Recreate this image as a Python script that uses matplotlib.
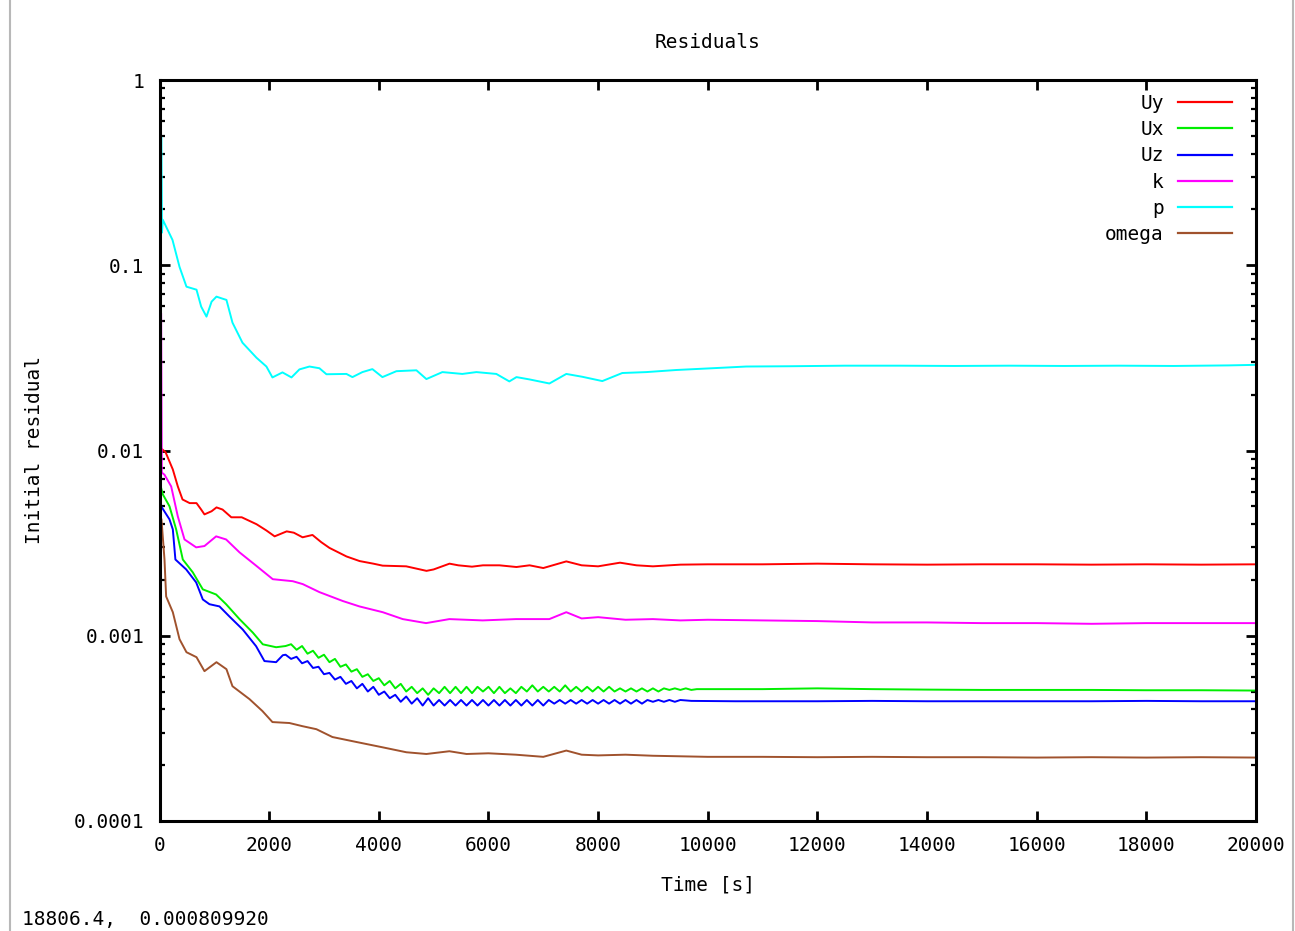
import matplotlib
matplotlib.use("Agg")
import matplotlib.pyplot as plt
from matplotlib.lines import Line2D
from matplotlib.ticker import LogLocator, FixedLocator, NullFormatter

# ---------------- data ----------------
t_uy = [0, 40, 110, 243, 334, 420, 550, 675, 760, 820, 950, 1040, 1150, 1310, 1500, 1770, 1950, 2100,
        2320, 2450, 2610, 2790, 2950, 3100, 3410, 3650, 3900, 4070, 4500, 4870, 5000, 5290, 5450, 5700,
        5900, 6200, 6510, 6750, 7000, 7420, 7700, 8000, 8400, 8700, 9000, 9500, 10000, 11000, 12000,
        13000, 14000, 15000, 16000, 17000, 18000, 19000, 20000]
uy = [0.0085, 0.0102, 0.0098, 0.0079, 0.0064, 0.00544, 0.0052, 0.0052, 0.0048, 0.00452,
      0.0047, 0.00493, 0.0048, 0.00436, 0.00436, 0.0040, 0.0037, 0.00344, 0.00366, 0.0036,
      0.0034, 0.0035, 0.0032, 0.00298, 0.00268, 0.00253, 0.00245, 0.00239, 0.00237, 0.00224,
      0.00228, 0.00245, 0.0024, 0.00236, 0.0024, 0.0024, 0.00235, 0.0024, 0.00232, 0.00252,
      0.0024, 0.00237, 0.00248, 0.0024, 0.00237, 0.00242, 0.00243, 0.00243, 0.00245, 0.00243,
      0.00242, 0.00243, 0.00243, 0.00242, 0.00243, 0.00242, 0.00243]

t_ux = ([0, 60, 182, 304, 425, 607, 790, 1033, 1215, 1459, 1702, 1884, 2127, 2300]
        + list(range(2400, 9800, 100))
        + [9800, 10500, 11000, 12000, 13000, 14000, 15000, 16000, 17000, 18000, 19000, 20000])
ux = ([0.0068, 0.0058, 0.0050, 0.00375, 0.00258, 0.0022, 0.00178, 0.00167, 0.00148, 0.00123,
       0.00104, 0.000899, 0.000867, 0.00088]
      + [0.00090, 0.00084, 0.00088, 0.00080, 0.00083, 0.00076, 0.00079, 0.00072, 0.00075, 0.00068,
         0.00070, 0.00064, 0.00066, 0.00060, 0.00062, 0.00057, 0.00059, 0.00054, 0.00057, 0.00052,
         0.00055, 0.00050, 0.00053, 0.00049, 0.00052, 0.00048, 0.00052, 0.00049, 0.00053, 0.00049,
         0.00053, 0.00049, 0.00053, 0.00049, 0.00053, 0.00050, 0.00053, 0.00049, 0.00053, 0.00049,
         0.00052, 0.00049, 0.00053, 0.00050, 0.00054, 0.00050, 0.00053, 0.00050, 0.00053, 0.00050,
         0.00054, 0.00050, 0.00053, 0.00050, 0.00053, 0.00050, 0.00053, 0.00050, 0.00053, 0.00050,
         0.00052, 0.00050, 0.00052, 0.00050, 0.00052, 0.00050, 0.00052, 0.00050, 0.00052, 0.00051,
         0.00052, 0.00051, 0.00052, 0.00051]
      + [0.000515, 0.000515, 0.000515, 0.00052, 0.000515, 0.000512, 0.00051, 0.00051, 0.00051,
         0.000508, 0.000508, 0.000506])

t_uz = ([0, 30, 182, 243, 290, 487, 669, 790, 911, 1094, 1276, 1519, 1762, 1914, 2127, 2249]
        + list(range(2300, 9600, 100))
        + [9700, 10500, 11000, 12000, 13000, 14000, 15000, 16000, 17000, 18000, 19000, 20000])
uz = ([0.0076, 0.0050, 0.00425, 0.00375, 0.00258, 0.00228, 0.00194, 0.00157, 0.00148, 0.00144,
       0.00127, 0.00108, 0.000878, 0.00073, 0.00072, 0.000785]
      + [0.00079, 0.00075, 0.00077, 0.00071, 0.00073, 0.00067, 0.00068, 0.00062, 0.00063, 0.00058,
         0.00060, 0.00055, 0.00057, 0.00052, 0.00055, 0.00050, 0.00053, 0.00048, 0.00050, 0.00046,
         0.00048, 0.00044, 0.00047, 0.00043, 0.00046, 0.00042, 0.00046, 0.00042, 0.00045, 0.00042,
         0.00045, 0.00042, 0.00045, 0.00042, 0.00045, 0.00042, 0.00045, 0.00042, 0.00045, 0.00042,
         0.00045, 0.00042, 0.00045, 0.00042, 0.00045, 0.00042, 0.00045, 0.00042, 0.00045, 0.00043,
         0.00045, 0.00043, 0.00045, 0.00043, 0.00045, 0.00043, 0.00045, 0.00043, 0.00045, 0.00043,
         0.00045, 0.00043, 0.00045, 0.00043, 0.00045, 0.00043, 0.00045, 0.00044, 0.00045, 0.00044,
         0.00045, 0.00044, 0.00045]
      + [0.000445, 0.000443, 0.000443, 0.000443, 0.000445, 0.000443, 0.000443, 0.000443, 0.000443,
         0.000445, 0.000443, 0.000443])

t_k = [0, 30, 42, 91, 213, 334, 456, 669, 820, 1033, 1215, 1459, 1762, 2066, 2431, 2613, 2917, 3343,
       3646, 4072, 4437, 4862, 5287, 5895, 6503, 7110, 7420, 7700, 8000, 8500, 9000, 9500, 10000,
       11000, 12000, 13000, 14000, 15000, 16000, 17000, 18000, 19000, 20000]
k = [0.02, 0.055, 0.0076, 0.0074, 0.0064, 0.00441, 0.00331, 0.00300, 0.00305, 0.00344,
     0.00331, 0.00282, 0.00239, 0.00202, 0.00197, 0.0019, 0.00172, 0.00154, 0.00144, 0.00134,
     0.00123, 0.00117, 0.00123, 0.00121, 0.00123, 0.00123, 0.00134, 0.00124, 0.00126, 0.00122,
     0.00123, 0.00121, 0.00122, 0.00121, 0.0012, 0.00118, 0.00118, 0.00117, 0.00117, 0.00116,
     0.00117, 0.00117, 0.00117]

t_p = [0, 35, 45, 60, 237, 365, 492, 675, 760, 857, 950, 1039, 1150, 1221, 1331, 1513, 1768, 1950,
       2060, 2243, 2407, 2552, 2735, 2917, 3045, 3410, 3519, 3701, 3883, 4066, 4321, 4686, 4868,
       5160, 5524, 5780, 6144, 6381, 6511, 6746, 7112, 7420, 7712, 8077, 8441, 8879, 9426, 10082,
       10702, 11500, 12500, 13500, 14500, 15500, 16500, 17500, 18500, 19500, 20000]
p = [0.3, 0.49, 0.15, 0.176, 0.137, 0.098, 0.0766, 0.0738, 0.0598, 0.0528,
     0.0636, 0.0677, 0.066, 0.065, 0.049, 0.0382, 0.0317, 0.0284,
     0.0248, 0.0264, 0.0248, 0.0274, 0.0284, 0.0278, 0.0258, 0.0259, 0.0249, 0.0265, 0.0275,
     0.0249, 0.0268, 0.0271, 0.0243, 0.0265, 0.0259, 0.0265, 0.0259, 0.0236, 0.0249, 0.0242,
     0.0230, 0.0259, 0.0250, 0.0237, 0.0262, 0.0265, 0.0272, 0.0278, 0.0284, 0.0285, 0.0287,
     0.0287, 0.0286, 0.0287, 0.0286, 0.0287, 0.0286, 0.0288, 0.029]

t_om = [0, 36, 91, 121, 243, 365, 492, 675, 820, 1039, 1221, 1331, 1641, 1878, 2060, 2370, 2607,
        2862, 3154, 3592, 4066, 4503, 4868, 5287, 5600, 6000, 6500, 7000, 7420, 7700, 8000, 8500,
        9000, 10000, 11000, 12000, 13000, 14000, 15000, 16000, 17000, 18000, 19000, 20000]
om = [0.0045, 0.00425, 0.00258, 0.00163, 0.00134, 0.000958, 0.000815, 0.000766, 0.000644, 0.00072,
      0.00066, 0.000534, 0.000455, 0.000392, 0.000342, 0.000338, 0.000325, 0.000313, 0.000284,
      0.000267, 0.000250, 0.000235, 0.00023, 0.000238, 0.00023, 0.000232, 0.000228, 0.000222,
      0.00024, 0.000228, 0.000226, 0.000228, 0.000225, 0.000222, 0.000222, 0.000221, 0.000222,
      0.000221, 0.000221, 0.00022, 0.000221, 0.00022, 0.000221, 0.00022]

series_labels = ["Uy", "Ux", "Uz", "k", "p", "omega"]
series_colors = ["#ff0000", "#00ee00", "#0000ff", "#ff00ff", "#00ffff", "#a0522d"]
x_ticks = [0, 2000, 4000, 6000, 8000, 10000, 12000, 14000, 16000, 18000, 20000]
y_ticks = [0.0001, 0.001, 0.01, 0.1, 1]
y_tick_labels = ["0.0001", "0.001", "0.01", "0.1", "1"]

# ---------------- figure ----------------
FONT = "DejaVu Sans Mono"
plt.rcParams["font.family"] = FONT
FS = 14

W, H = 1295, 931
fig = plt.figure(figsize=(W / 100, H / 100), dpi=100)
L, R, T, B = 159.5, 1256, 80, 821
ax = fig.add_axes([L / W, 1 - B / H, (R - L) / W, (B - T) / H])

data = [(t_uy, uy), (t_ux, ux), (t_uz, uz), (t_k, k), (t_p, p), (t_om, om)]
for (tt, vv), lab, col in zip(data, series_labels, series_colors):
    ax.plot(tt, vv, color=col, lw=1.4, label=lab)

ax.set_yscale("log")
ax.set_xlim(0, 20000)
ax.set_ylim(1e-4, 1)
ax.xaxis.set_major_locator(FixedLocator(x_ticks))
ax.set_xticklabels([str(v) for v in x_ticks])
ax.yaxis.set_major_locator(FixedLocator(y_ticks))
ax.set_yticklabels(y_tick_labels)
ax.yaxis.set_minor_locator(LogLocator(base=10, subs=range(2, 10)))
ax.yaxis.set_minor_formatter(NullFormatter())

ax.tick_params(which="major", direction="in", length=7, width=2, top=True, right=True,
               labelsize=FS, color="black")
ax.tick_params(which="minor", direction="in", length=3.5, width=1.6, top=True, right=True)
ax.tick_params(axis="x", which="major", pad=11)
ax.tick_params(axis="y", which="major", pad=11)
for s in ax.spines.values():
    s.set_linewidth(2.2)

ax.set_title("Residuals", fontsize=FS, y=(B - 42) / (B - T), pad=0, va="center")
ax.set_xlabel("Time [s]", fontsize=FS, va="center")
ax.xaxis.set_label_coords(0.5, (B - 885) / (B - T))
ax.set_ylabel("Initial residual", fontsize=FS, va="center")
ax.yaxis.set_label_coords((35 - L) / (R - L), 0.5)

leg = ax.legend(loc="upper right", bbox_to_anchor=((1232 - L) / (R - L), (B - 94) / (B - T)),
                markerfirst=False, frameon=False, handlelength=2.8, handletextpad=0.7,
                labelspacing=0.37, fontsize=FS, borderaxespad=0, borderpad=0)
for ln in leg.get_lines():
    ln.set_linewidth(1.6)

fig.text(22 / W, 1 - 920 / H, "18806.4,  0.000809920", fontsize=FS, ha="left", va="center")

for xp in (10, 1293):
    fig.add_artist(Line2D([xp / W, xp / W], [0, 1], transform=fig.transFigure,
                          color="#b8b8b8", lw=1.5))

fig.savefig("out.png", dpi=100)
